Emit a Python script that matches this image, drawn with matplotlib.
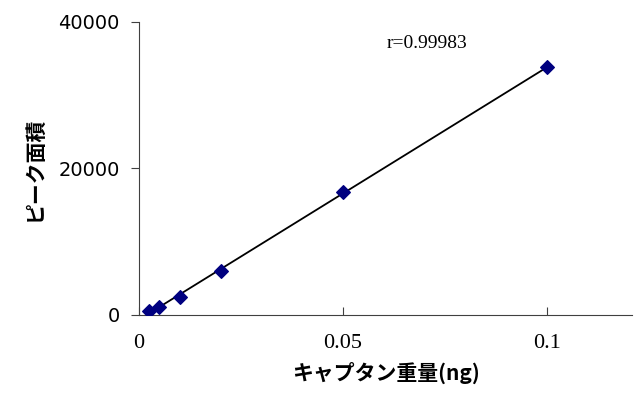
import numpy as np
import matplotlib.pyplot as plt

# データ
x_ng = [0.0025, 0.005, 0.01, 0.02, 0.05, 0.1]
area = [550, 1150, 2500, 6050, 16800, 33800]
r_text = 'r=0.99983'

fig = plt.figure(figsize=(6.34, 4.05), dpi=100)
ax = fig.add_axes([139/634, 1-315/405, (632-139)/634, (315-22)/405])

# 近似直線
a, b = np.polyfit(x_ng, area, 1)
xs = np.array([min(x_ng), max(x_ng)])
ax.plot(xs, a*xs + b, color='black', lw=1.3, zorder=2)
ax.scatter(x_ng, area, marker='D', s=48, color='#000080', zorder=3)

ax.set_xlim(0, 0.1208)
ax.set_ylim(0, 40000)
ax.set_xticks([0, 0.05, 0.1])
ax.set_xticklabels(['0', '0.05', '0.1'], family='Liberation Serif', fontsize=16)
ax.set_yticks([0, 20000, 40000])
ax.set_yticklabels(['0', '20000', '40000'], family='DejaVu Sans', fontsize=14)
ax.tick_params(axis='x', direction='in', length=6, width=0.8, color='#404040', pad=14)
ax.tick_params(axis='y', direction='out', length=6, width=0.8, color='#404040', pad=8)
for s in ['top', 'right']:
    ax.spines[s].set_visible(False)
for s in ['left', 'bottom']:
    ax.spines[s].set_color('#404040')

ax.text(0.0705, 37000, r_text, family='Liberation Serif', fontsize=14, ha='center', va='center')

jp = ['Noto Sans CJK JP', 'DejaVu Sans']
ax.set_xlabel('キャプタン重量(ng)', family=jp, fontsize=15, fontweight='bold', labelpad=6)
ax.set_ylabel('ピーク面積', family=jp, fontsize=15, fontweight='bold', labelpad=10)

fig.savefig('out.png', dpi=100)
